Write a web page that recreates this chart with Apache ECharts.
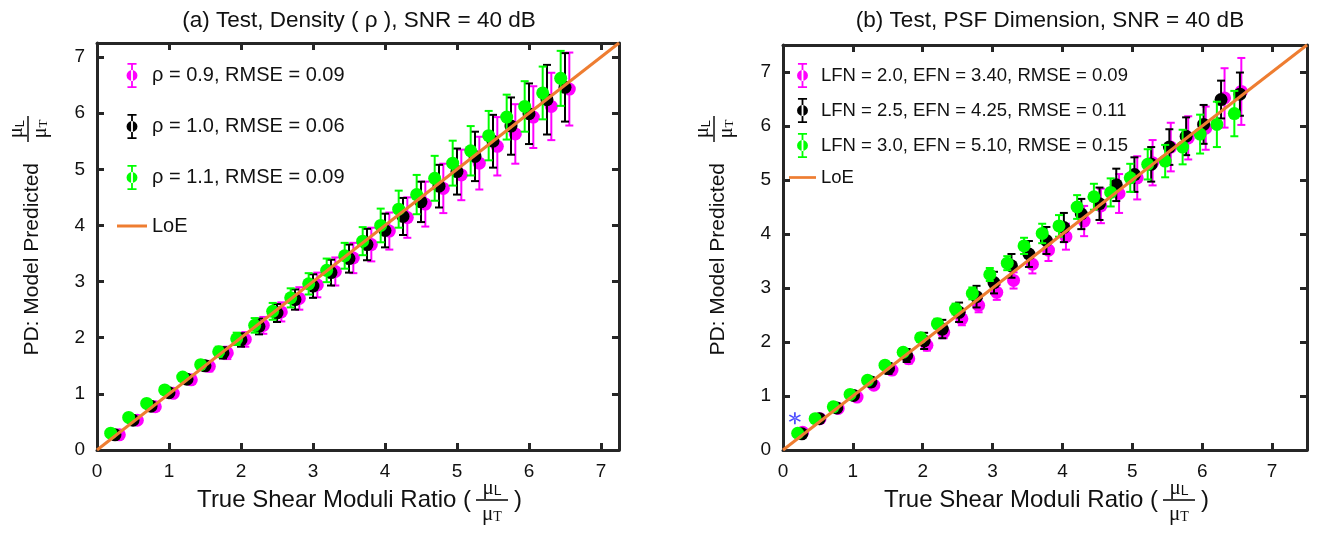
<!DOCTYPE html>
<html><head><meta charset="utf-8">
<script src="https://cdn.jsdelivr.net/npm/echarts@6/dist/echarts.min.js"></script>
<style>html,body{margin:0;padding:0;background:#fff}#c{width:1321px;height:533px}</style>
</head><body><div id="c"></div>
<script>
// ---------- DATA ----------
const tickLabels = ['0','1','2','3','4','5','6','7'];
const titleA = '(a) Test, Density ( ρ ), SNR = 40 dB';
const titleB = '(b) Test, PSF Dimension, SNR = 40 dB';
const xAxisTitle = 'True Shear Moduli Ratio (';
const yAxisTitle = 'PD: Model Predicted';
const axisMaxA = 7.25;
const axisMaxB = 7.5;

// (a) Density
const namesA = ['ρ = 0.9, RMSE = 0.09', 'ρ = 1.0, RMSE = 0.06', 'ρ = 1.1, RMSE = 0.09', 'LoE'];
const aMagX = [0.31,0.56,0.81,1.06,1.31,1.56,1.81,2.06,2.31,2.56,2.81,3.06,3.31,3.56,3.81,4.06,4.31,4.56,4.81,5.06,5.31,5.56,5.81,6.06,6.31,6.56];
const aMagY = [0.27,0.53,0.77,1.01,1.25,1.49,1.73,1.97,2.22,2.46,2.70,2.94,3.18,3.42,3.66,3.90,4.14,4.38,4.66,4.90,5.11,5.41,5.63,5.93,6.12,6.43];
const aMagE = [0.02,0.03,0.04,0.06,0.07,0.09,0.11,0.13,0.15,0.17,0.20,0.22,0.25,0.27,0.30,0.33,0.36,0.40,0.44,0.45,0.47,0.52,0.53,0.55,0.60,0.65];
const aBlkX = [0.25,0.50,0.75,1.00,1.25,1.50,1.75,2.00,2.25,2.50,2.75,3.00,3.25,3.50,3.75,4.00,4.25,4.50,4.75,5.00,5.25,5.50,5.75,6.00,6.25,6.50];
const aBlkY = [0.27,0.53,0.78,1.02,1.26,1.50,1.73,1.96,2.20,2.44,2.68,2.92,3.16,3.41,3.66,3.91,4.16,4.42,4.70,4.96,5.23,5.50,5.77,5.99,6.24,6.46];
const aBlkE = [0.02,0.03,0.04,0.05,0.07,0.08,0.10,0.12,0.14,0.16,0.18,0.21,0.23,0.25,0.28,0.30,0.33,0.36,0.38,0.41,0.44,0.47,0.51,0.54,0.62,0.61];
const aGrnX = [0.19,0.44,0.69,0.94,1.19,1.44,1.69,1.94,2.19,2.44,2.69,2.94,3.19,3.44,3.69,3.94,4.19,4.44,4.69,4.94,5.19,5.44,5.69,5.94,6.19,6.44];
const aGrnY = [0.30,0.58,0.83,1.07,1.30,1.52,1.75,1.98,2.22,2.47,2.71,2.96,3.20,3.46,3.72,4.00,4.29,4.55,4.84,5.11,5.33,5.60,5.93,6.12,6.36,6.62];
const aGrnE = [0.02,0.03,0.04,0.05,0.06,0.07,0.09,0.11,0.13,0.15,0.17,0.19,0.21,0.23,0.25,0.30,0.33,0.35,0.40,0.40,0.44,0.44,0.40,0.45,0.47,0.49];

// (b) PSF dimension
const namesB = ['LFN = 2.0, EFN = 3.40, RMSE = 0.09', 'LFN = 2.5, EFN = 4.25, RMSE = 0.11', 'LFN = 3.0, EFN = 5.10, RMSE = 0.15', 'LoE'];
const bMagX = [0.28,0.53,0.79,1.06,1.30,1.56,1.80,2.06,2.30,2.56,2.80,3.06,3.30,3.57,3.80,4.05,4.31,4.55,4.81,5.07,5.29,5.55,5.80,6.05,6.32,6.56];
const bMagY = [0.33,0.58,0.77,0.98,1.20,1.48,1.69,1.94,2.18,2.43,2.68,2.92,3.14,3.44,3.70,3.95,4.24,4.52,4.75,5.04,5.32,5.61,5.78,5.96,6.52,6.64];
const bMagE = [0.03,0.04,0.05,0.06,0.07,0.08,0.09,0.10,0.11,0.12,0.13,0.14,0.15,0.17,0.20,0.24,0.28,0.32,0.36,0.40,0.42,0.45,0.40,0.40,0.55,0.62];
const bBlkX = [0.27,0.52,0.77,1.01,1.26,1.51,1.77,2.02,2.28,2.52,2.77,3.02,3.27,3.52,3.77,4.02,4.27,4.53,4.77,5.03,5.27,5.53,5.77,6.02,6.27,6.54];
const bBlkY = [0.30,0.58,0.78,1.01,1.26,1.51,1.75,2.02,2.24,2.55,2.84,3.10,3.41,3.63,3.88,4.12,4.37,4.56,4.91,5.10,5.29,5.61,5.81,6.03,6.49,6.59];
const bBlkE = [0.02,0.03,0.04,0.05,0.08,0.10,0.12,0.15,0.17,0.18,0.20,0.20,0.22,0.24,0.25,0.27,0.28,0.30,0.30,0.32,0.32,0.33,0.35,0.36,0.35,0.40];
const bGrnX = [0.21,0.46,0.72,0.96,1.21,1.46,1.72,1.97,2.21,2.47,2.71,2.96,3.21,3.45,3.71,3.95,4.21,4.45,4.69,4.97,5.22,5.47,5.72,5.97,6.21,6.46];
const bGrnY = [0.31,0.58,0.80,1.03,1.29,1.57,1.81,2.08,2.34,2.61,2.90,3.25,3.46,3.78,4.01,4.15,4.50,4.69,4.77,5.04,5.29,5.35,5.61,5.85,6.03,6.23];
const bGrnE = [0.02,0.02,0.03,0.04,0.05,0.06,0.07,0.08,0.09,0.10,0.11,0.12,0.13,0.15,0.18,0.20,0.22,0.24,0.26,0.26,0.28,0.30,0.32,0.36,0.42,0.42];
const bStar = [[0.17, 0.59]];

// ---------- STYLE / LAYOUT ----------
const FONT = '"Liberation Sans", Arial, Helvetica, sans-serif';
const SERIF = '"Liberation Serif", "Times New Roman", serif';
const AX = '#262626';
const C_MAG = '#ff00ff', C_BLK = '#000000', C_GRN = '#00ff00', C_LOE = '#ee7d31';
const W = 1321, H = 533;
const GA = {left: 97, top: 43, width: 522, height: 407};
const GB = {left: 783, top: 45, width: 524, height: 405};

const ICON_EB = 'path://M1,0H9V1.6H1Z M4.2,0H5.8V22H4.2Z M1,20.4H9V22H1Z M0.2,11A4.8,4.8 0 1 0 9.8,11A4.8,4.8 0 1 0 0.2,11Z';
const ICON_LINE = 'path://M0,0H30V3H0Z';
const ICON_STAR = 'path://M4.3,0H5.7V10H4.3Z M8.98,8.106L9.68,6.894L1.02,1.894L0.32,3.106Z M9.68,3.106L8.98,1.894L0.32,6.894L1.02,8.106Z';

function zip3(xs, ys, es) { return xs.map((x, i) => [x, ys[i], es[i]]); }

function errRender(color) {
  return function (params, api) {
    const x = api.value(0), y = api.value(1), e = api.value(2);
    const c = api.coord([x, y]);
    const t = api.coord([x, y + e]);
    const b = api.coord([x, y - e]);
    const hw = 4;
    const st = {stroke: color, lineWidth: 2};
    return {type: 'group', children: [
      {type: 'line', shape: {x1: c[0], y1: t[1], x2: c[0], y2: b[1]}, style: st},
      {type: 'line', shape: {x1: c[0] - hw, y1: t[1], x2: c[0] + hw, y2: t[1]}, style: st},
      {type: 'line', shape: {x1: c[0] - hw, y1: b[1], x2: c[0] + hw, y2: b[1]}, style: st},
      {type: 'circle', shape: {cx: c[0], cy: c[1], r: 6.5}, style: {fill: color}}
    ]};
  };
}
function loeRender(params, api) {
  const p0 = api.coord([api.value(0), api.value(1)]);
  const p1 = api.coord([api.value(2), api.value(3)]);
  return {type: 'line', shape: {x1: p0[0], y1: p0[1], x2: p1[0], y2: p1[1]}, style: {stroke: C_LOE, lineWidth: 3}};
}

function axisPair(gi, max, labels, pos) {
  return {
    gridIndex: gi, type: 'value', min: 0, max: max, interval: 1,
    axisLine: {show: true, onZero: false, lineStyle: {color: AX, width: 3}},
    axisTick: {show: true, inside: true, length: 7, lineStyle: {color: AX, width: 3}},
    splitLine: {show: false},
    axisLabel: {show: labels, margin: 12, color: '#111', fontSize: 19, fontFamily: FONT,
      formatter: v => (Number.isInteger(v) && tickLabels[v] !== undefined) ? tickLabels[v] : ''},
    position: pos
  };
}

function seriesFor(gi, names, mag, blk, grn, max) {
  const ax = {xAxisIndex: gi * 2, yAxisIndex: gi * 2};
  return [
    Object.assign({type: 'custom', name: names[0], renderItem: errRender(C_MAG), itemStyle: {color: C_MAG}, data: mag, encode: {x: 0, y: 1}, z: 2}, ax),
    Object.assign({type: 'custom', name: names[1], renderItem: errRender(C_BLK), itemStyle: {color: C_BLK}, data: blk, encode: {x: 0, y: 1}, z: 3}, ax),
    Object.assign({type: 'custom', name: names[2], renderItem: errRender(C_GRN), itemStyle: {color: C_GRN}, data: grn, encode: {x: 0, y: 1}, z: 4}, ax),
    Object.assign({type: 'custom', name: names[3], renderItem: loeRender, itemStyle: {color: C_LOE}, data: [[0, 0, max, max]], encode: {x: [0, 2], y: [1, 3]}, z: 5}, ax)
  ];
}

function legendFor(names, left, top, gap, iconW, fs) {
  return {
    left: left, top: top, orient: 'vertical', itemGap: gap, itemWidth: iconW, itemHeight: 25,
    padding: 0, selectedMode: false,
    textStyle: {fontSize: fs, fontFamily: FONT, color: '#111'},
    data: [
      {name: names[0], icon: ICON_EB}, {name: names[1], icon: ICON_EB},
      {name: names[2], icon: ICON_EB}, {name: names[3], icon: ICON_LINE}
    ]
  };
}

function xLabel(g) {
  const cx = g.left + g.width / 2 + 134, cy = 500;
  return {type: 'group', x: cx, y: cy, children: [
    {type: 'text', x: -21, y: 0, style: {text: xAxisTitle, align: 'right', verticalAlign: 'middle', fontSize: 24, fontFamily: FONT, fill: '#111'}},
    {type: 'line', shape: {x1: -16, y1: 0, x2: 16, y2: 0}, style: {stroke: '#111', lineWidth: 1.6}},
    {type: 'text', x: 0, y: -12, style: {text: '{m|μ}{s|L}', align: 'center', verticalAlign: 'middle', rich: {m: {fontSize: 21, fontFamily: SERIF, fill: '#111'}, s: {fontSize: 14, fontFamily: FONT, fill: '#111', padding: [7, 0, 0, 0]}}}},
    {type: 'text', x: 0, y: 14, style: {text: '{m|μ}{s|T}', align: 'center', verticalAlign: 'middle', rich: {m: {fontSize: 21, fontFamily: SERIF, fill: '#111'}, s: {fontSize: 14, fontFamily: SERIF, fill: '#111', padding: [7, 0, 0, 0]}}}},
    {type: 'text', x: 22, y: 0, style: {text: ')', align: 'left', verticalAlign: 'middle', fontSize: 24, fontFamily: FONT, fill: '#111'}}
  ]};
}
function yLabel(g) {
  const ox = g.left - 69, oy = 129;
  return {type: 'group', x: ox, y: oy, rotation: Math.PI / 2, children: [
    {type: 'text', x: -34, y: 4, style: {text: yAxisTitle, align: 'right', verticalAlign: 'middle', fontSize: 21, fontFamily: FONT, fill: '#111'}},
    {type: 'line', shape: {x1: -13, y1: 0, x2: 13, y2: 0}, style: {stroke: '#111', lineWidth: 1.5}},
    {type: 'text', x: 0, y: -11, style: {text: '{m|μ}{s|L}', align: 'center', verticalAlign: 'middle', rich: {m: {fontSize: 20, fontFamily: SERIF, fill: '#111'}, s: {fontSize: 13, fontFamily: FONT, fill: '#111', padding: [6, 0, 0, 0]}}}},
    {type: 'text', x: 0, y: 13, style: {text: '{m|μ}{s|T}', align: 'center', verticalAlign: 'middle', rich: {m: {fontSize: 20, fontFamily: SERIF, fill: '#111'}, s: {fontSize: 13, fontFamily: SERIF, fill: '#111', padding: [6, 0, 0, 0]}}}}
  ]};
}

const chart = echarts.init(document.getElementById('c'), null, {renderer: 'canvas', width: W, height: H});
const option = {
  animation: false,
  backgroundColor: '#fff',
  title: [
    {text: titleA, left: GA.left + GA.width / 2 - 4, textAlign: 'center', top: 4, textStyle: {fontSize: 22.5, fontWeight: 'normal', fontFamily: FONT, color: '#111'}},
    {text: titleB, left: GB.left + GB.width / 2, textAlign: 'center', top: 4, textStyle: {fontSize: 22.5, fontWeight: 'normal', fontFamily: FONT, color: '#111'}}
  ],
  grid: [
    {left: GA.left, top: GA.top, right: W - GA.left - GA.width, bottom: H - GA.top - GA.height},
    {left: GB.left, top: GB.top, right: W - GB.left - GB.width, bottom: H - GB.top - GB.height}
  ],
  xAxis: [
    axisPair(0, axisMaxA, true, 'bottom'), axisPair(0, axisMaxA, false, 'top'),
    axisPair(1, axisMaxB, true, 'bottom'), axisPair(1, axisMaxB, false, 'top')
  ],
  yAxis: [
    axisPair(0, axisMaxA, true, 'left'), axisPair(0, axisMaxA, false, 'right'),
    axisPair(1, axisMaxB, true, 'left'), axisPair(1, axisMaxB, false, 'right')
  ],
  legend: [
    legendFor(namesA, 117, 63, 26, 30, 20),
    legendFor(namesB, 789, 63, 10, 27, 18.5)
  ],
  series: [].concat(
    seriesFor(0, namesA, zip3(aMagX, aMagY, aMagE), zip3(aBlkX, aBlkY, aBlkE), zip3(aGrnX, aGrnY, aGrnE), axisMaxA),
    seriesFor(1, namesB, zip3(bMagX, bMagY, bMagE), zip3(bBlkX, bBlkY, bBlkE), zip3(bGrnX, bGrnY, bGrnE), axisMaxB),
    [{type: 'scatter', name: 'marked', xAxisIndex: 2, yAxisIndex: 2, symbol: ICON_STAR, symbolSize: 12, itemStyle: {color: '#1f1fff'}, data: bStar, z: 6}]
  ),
  graphic: [xLabel(GA), xLabel(GB), yLabel(GA), yLabel(GB)]
};
chart.setOption(option);
</script>
</body></html>
